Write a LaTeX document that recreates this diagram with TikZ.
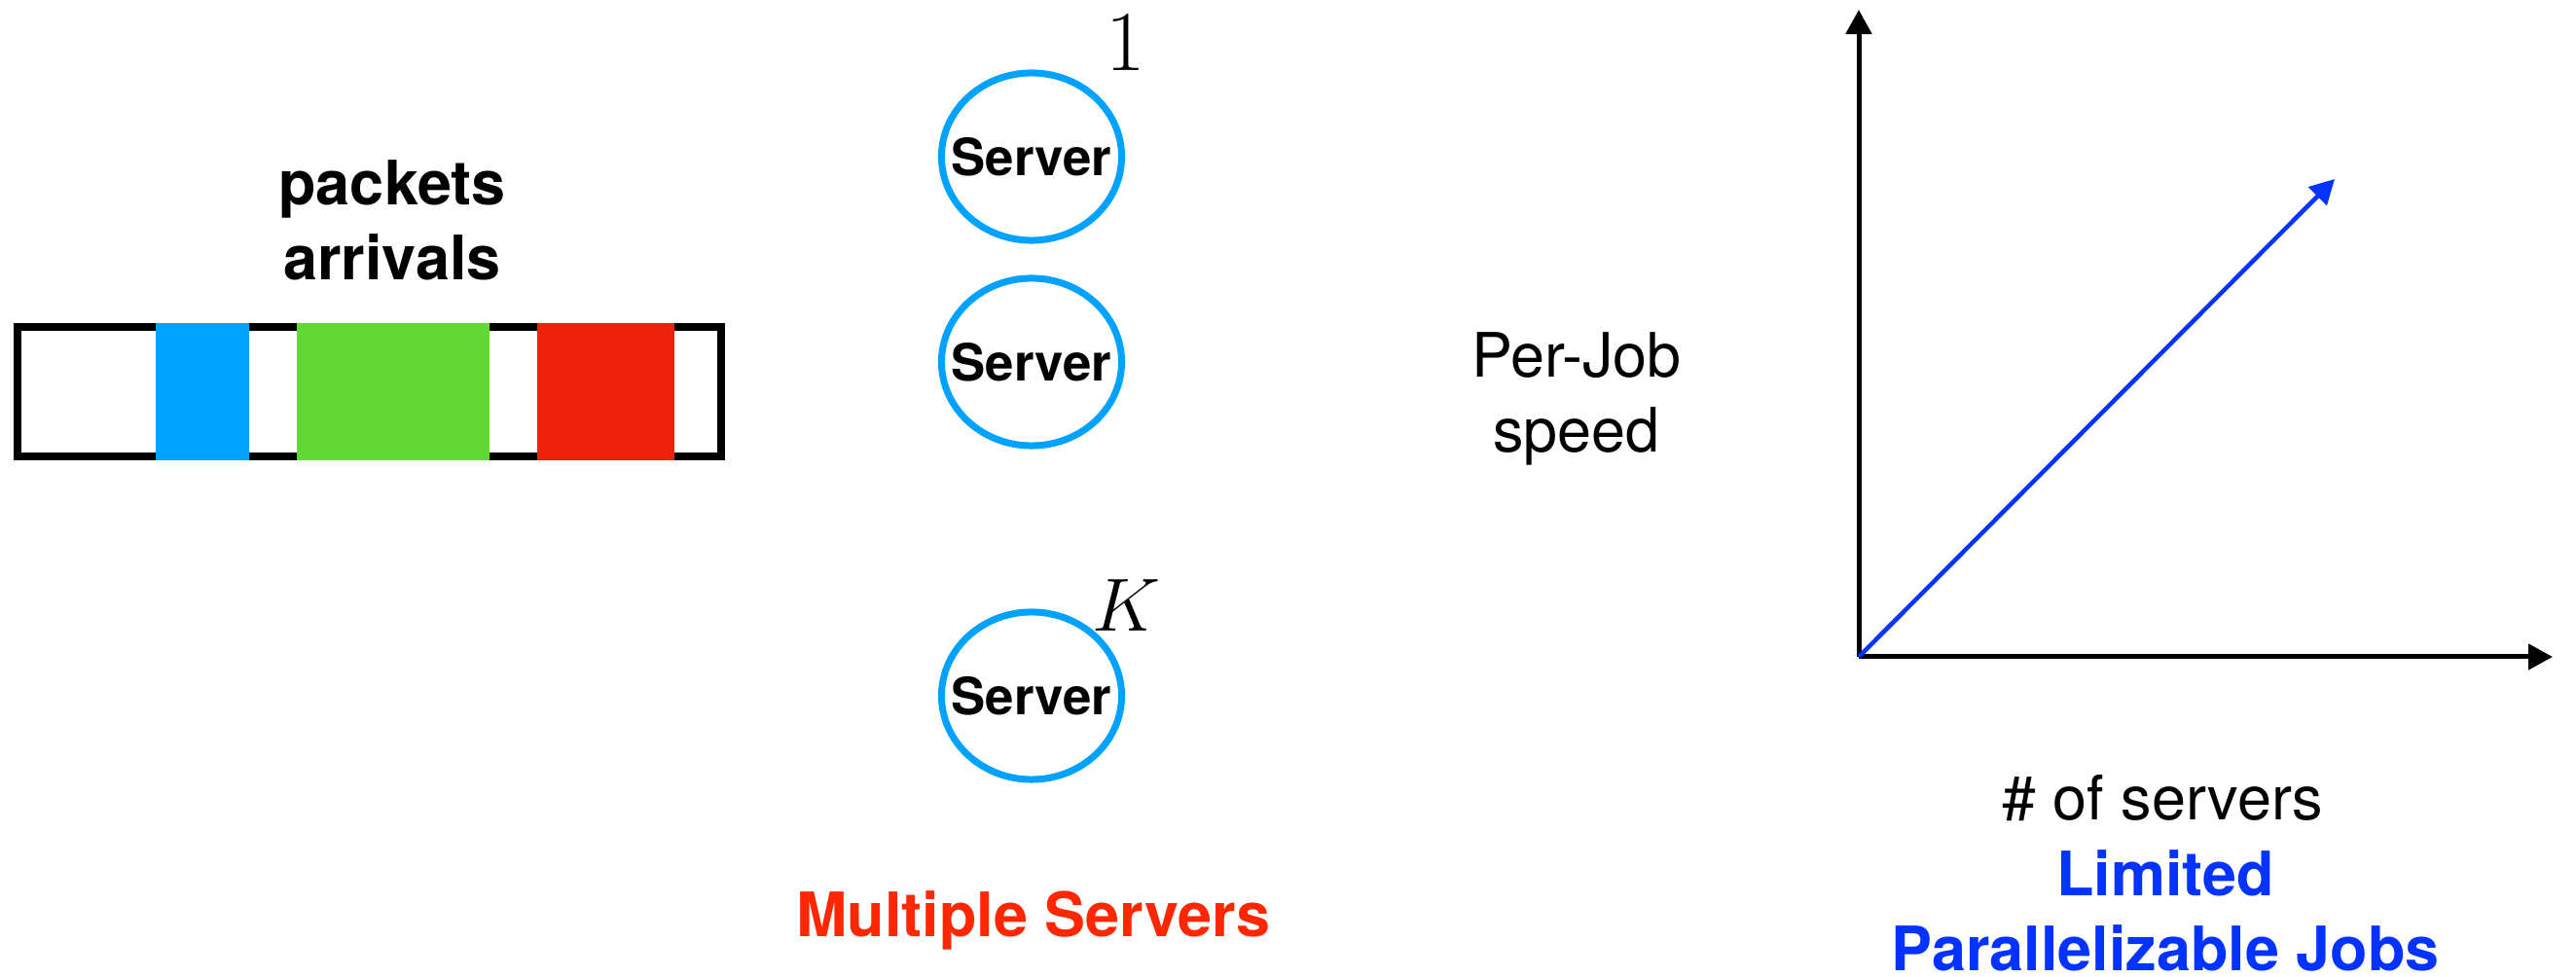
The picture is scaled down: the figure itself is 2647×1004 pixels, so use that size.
\RequirePackage{fix-cm}
\documentclass[tikz,border=0pt]{standalone}
\usepackage{fontspec}
\usetikzlibrary{shapes.geometric,arrows.meta}
\newfontfamily\helv{TeX Gyre Heros}
\definecolor{srvblue}{HTML}{00A2FF}
\definecolor{pktgreen}{HTML}{62D836}
\definecolor{pktred}{HTML}{EE220C}
\definecolor{multired}{HTML}{FF2600}
\definecolor{jobblue}{HTML}{0433FF}

\begin{document}
\begin{tikzpicture}[x=0.01cm, y=-0.01cm,
    server/.style={ellipse, draw=srvblue, line width=0.7mm, minimum width=1.85cm, minimum height=1.72cm, inner sep=0pt, font=\helv\bfseries\fontsize{15}{18}\selectfont},
    caption/.style={align=center, inner sep=0pt, font=\helv\fontsize{17.9}{21.9}\selectfont},
    boldcaption/.style={caption, font=\helv\bfseries\fontsize{17.9}{21.9}\selectfont},
    axis/.style={line width=0.5mm, -{Triangle[length=2.5mm,width=2.6mm]}}]
				\useasboundingbox (0,0) rectangle (2647,1004);

				% queue of arriving packets
				\node (queue) [draw, line width=0.8mm, minimum width=7.23cm, minimum height=1.33cm, inner sep=0pt] at (379.5,402.5) {};
				\fill[srvblue] (160,332) rectangle (256,473);
				\fill[pktgreen] (305,332) rectangle (503,473);
				\fill[pktred] (552,332) rectangle (693,473);
				\node (arrivals) [boldcaption] at (403,226) {packets\\arrivals};

				% the K servers
				\node (srv1) [server] at (1060,161) {\makebox[0pt]{Server}};
				\node (srv2) [server] at (1060,372) {\makebox[0pt]{Server}};
				\node (srvK) [server] at (1060,715) {\makebox[0pt]{Server}};
				\node (one) at (1157,44) {\fontsize{25}{30}\selectfont$1$};
				\node (kay) at (1157,622) {\fontsize{22}{26}\selectfont$K$};
				\node (multi) [boldcaption, text=multired] at (1062,946) {Multiple Servers};

				% speed against number of servers
				\node (speed) [caption] at (1620,410) {Per-Job\\speed};
				\coordinate (origin) at (1910,675);
				\coordinate (ytop) at (1910,10);
				\coordinate (xend) at (2623,675);
				\coordinate (ray) at (2399,184);
				\draw[axis] (origin) -- (ytop);
				\draw[axis] (origin) -- (xend);
				\draw[axis, jobblue, line width=0.45mm] (origin) -- (ray);
				\node (nservers) [caption] at (2222,820) {\# of servers};
				\node (limited) [boldcaption, text=jobblue] at (2225,936) {Limited\\Parallelizable Jobs};
			\end{tikzpicture}
\end{document}
